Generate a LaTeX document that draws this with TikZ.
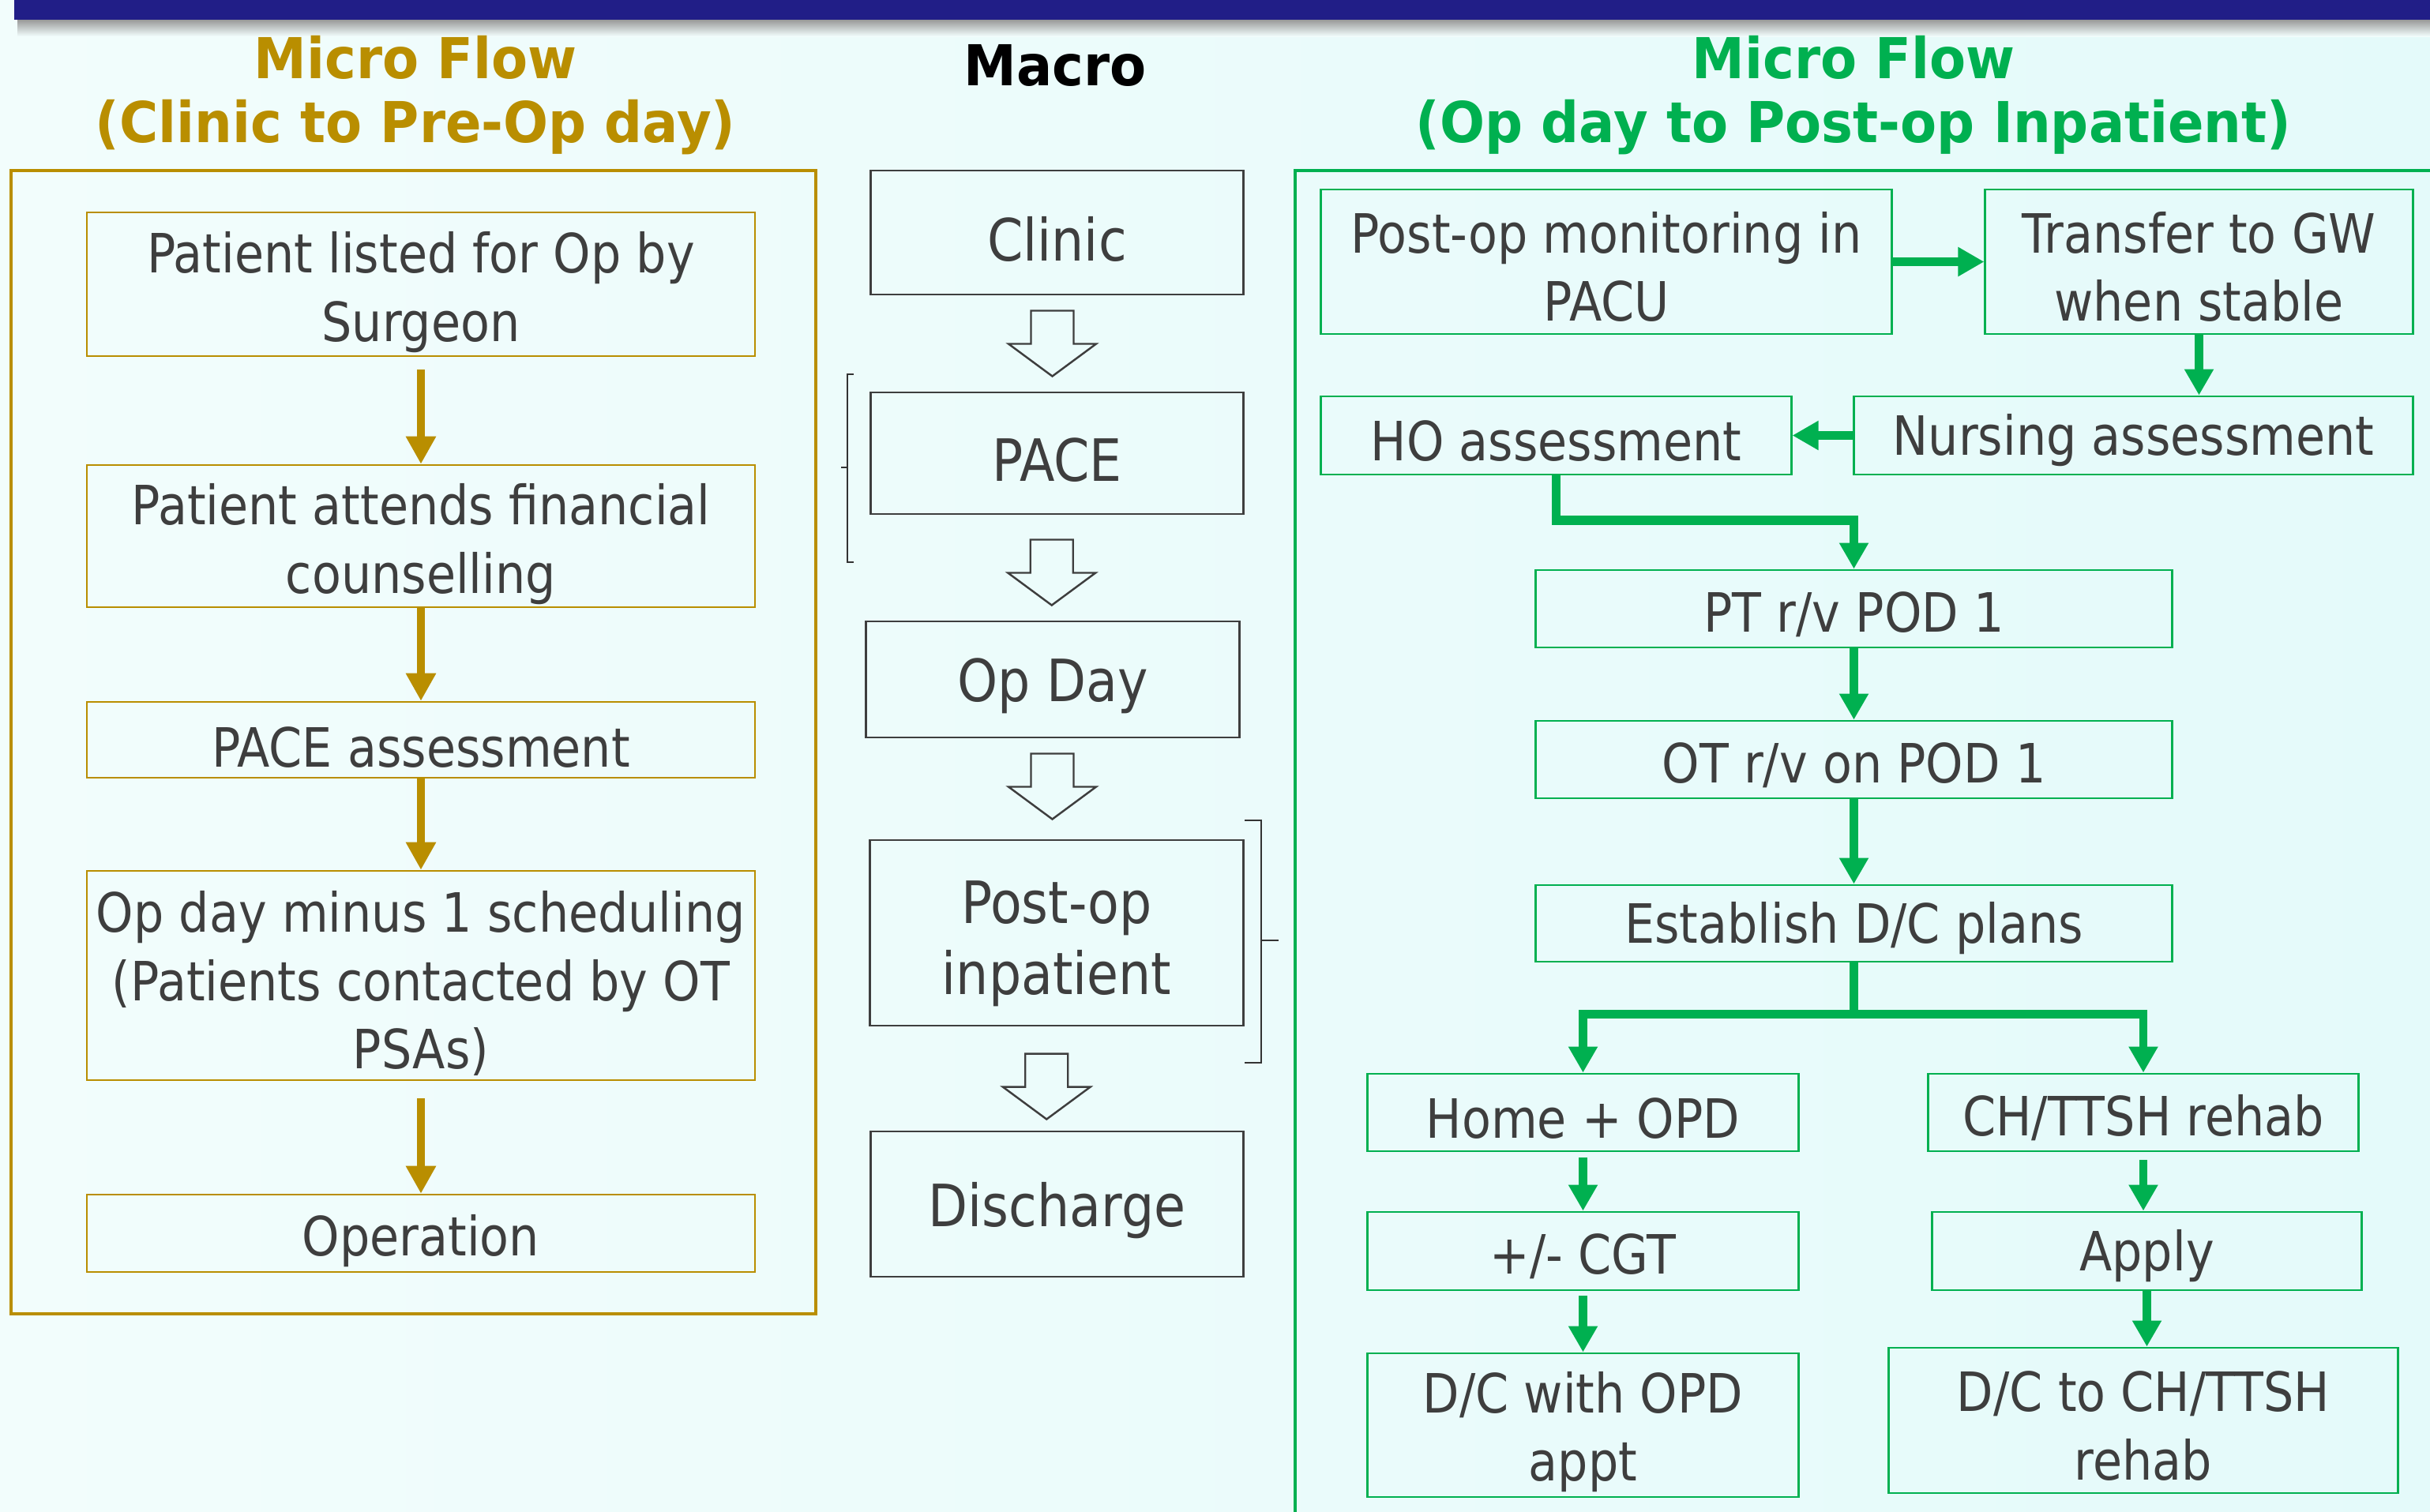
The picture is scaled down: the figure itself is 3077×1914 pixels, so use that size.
\documentclass[tikz,border=0pt]{standalone}
\usepackage{fontspec}
\setmainfont{DejaVu Sans}[FakeStretch=0.88, BoldFeatures={FakeStretch=0.94}]
\usetikzlibrary{arrows.meta,calc}

\definecolor{navy}{RGB}{33,30,135}
\definecolor{gold}{RGB}{185,142,0}
\definecolor{grn}{RGB}{0,176,80}
\definecolor{txt}{RGB}{62,62,62}
\definecolor{bgc}{RGB}{242,253,252}
\definecolor{bgr}{RGB}{228,250,250}

\newcommand{\boxfont}{\fontsize{19.5}{24.5}\selectfont}
\newcommand{\macrofont}{\fontsize{21}{25.5}\selectfont}
\newcommand{\titlefont}{\fontsize{20.3}{23}\selectfont\bfseries}
\newcommand{\lift}[1]{\rule{0pt}{#1}}

\tikzset{
  lbox/.style={draw=gold, line width=0.7pt, text=txt, align=center, inner sep=0pt, font=\boxfont,
    execute at begin node={\lift{20pt}}},
  mbox/.style={draw=txt, line width=0.8pt, text=txt, align=center, inner sep=0pt, font=\macrofont,
    execute at begin node={\lift{20.5pt}}},
  rbox/.style={draw=grn, line width=0.8pt, text=txt, align=center, inner sep=0pt, font=\boxfont,
    execute at begin node={\lift{18.5pt}}},
  ttl/.style={inner sep=0pt, font=\titlefont},
  larrow/.style={draw=gold, line width=3pt, -{Triangle[length=0.35cm,width=0.36cm]}},
  garrow/.style={draw=grn, line width=2.9pt, -{Triangle[length=0.33cm,width=0.35cm]}},
  hollow/.style={draw=txt, line width=0.7pt},
  brk/.style={draw=black!80, line width=0.5pt}
}

% hollow block arrow centred on a named coordinate
\newcommand{\hollowarrow}[1]{%
  \draw[hollow] ([shift={(-27,-41.5)}]#1) -- ++(54,0) -- ++(0,42) -- ++(28.5,0)
    -- ++(-55.5,41) -- ++(-55.5,-41) -- ++(28.5,0) -- cycle;}

\begin{document}
\begin{tikzpicture}[x=0.01cm, y=-0.01cm]

\useasboundingbox (0,0) rectangle (3077,1914);
\clip (0,0) rectangle (3077,1914);
\shade[left color=bgc, right color=bgr] (0,0) rectangle (3077,1914);

% top bar
\shade[top color=black!40, bottom color=bgc] (22,25) rectangle (3077,46);
\fill[navy] (18,0) rectangle (3077,25);

% titles
\node[ttl, text=gold, anchor=base] (lt1) at (526,99) {Micro Flow};
\node[ttl, text=gold, anchor=base] (lt2) at (526,180) {(Clinic to Pre-Op day)};
\node[ttl, anchor=base] (mt) at (1336,108) {Macro};
\node[ttl, text=grn, anchor=base] (rt1) at (2347,99) {Micro Flow};
\node[ttl, text=grn, anchor=base] (rt2) at (2347,180) {(Op day to Post-op Inpatient)};

% left column
\draw[gold, line width=1.4pt] (14,216) rectangle (1033,1664);

\node[lbox, minimum width=8.46cm, minimum height=1.82cm] (listed) at (533,360) {\lift{20.5pt}Patient listed for Op by\\Surgeon};
\node[lbox, minimum width=8.46cm, minimum height=1.80cm] (counsel) at (533,679) {\lift{20.5pt}Patient attends financial\\counselling};
\node[lbox, minimum width=8.46cm, minimum height=0.96cm] (paceass) at (533,937) {PACE assessment};
\node[lbox, minimum width=8.46cm, minimum height=2.65cm] (schedule) at (533,1235.5) {\lift{20.5pt}Op day minus 1 scheduling\\(Patients contacted by OT\\PSAs)};
\node[lbox, minimum width=8.46cm, minimum height=0.98cm] (operation) at (533,1562) {Operation};

\draw[larrow, shorten <=0.16cm] (listed) -- (counsel);
\draw[larrow] (counsel) -- (paceass);
\draw[larrow] (paceass) -- (schedule);
\draw[larrow, shorten <=0.22cm] (schedule) -- (operation);

% macro column
\node[mbox, minimum width=4.71cm, minimum height=1.57cm] (clinic) at (1338.5,294.5) {Clinic};
\node[mbox, minimum width=4.71cm, minimum height=1.54cm] (pace) at (1338.5,574) {PACE};
\node[mbox, minimum width=4.72cm, minimum height=1.47cm] (opday) at (1333,860.5) {Op Day};
\node[mbox, minimum width=4.72cm, minimum height=2.35cm] (postop) at (1338,1181.5) {\lift{23pt}Post-op\\inpatient};
\node[mbox, minimum width=4.71cm, minimum height=1.84cm] (discharge) at (1338.5,1525) {Discharge};

\coordinate (h1) at ($(clinic.south)!0.5!(pace.north)+(-6,0)$);
\coordinate (h2) at ($(pace.south)!0.5!(opday.north)+(-4,6)$);
\coordinate (h3) at ($(opday.south)!0.5!(postop.north)+(-3,-3)$);
\coordinate (h4) at ($(postop.south)!0.5!(discharge.north)+(-13,10)$);
\hollowarrow{h1}
\hollowarrow{h2}
\hollowarrow{h3}
\hollowarrow{h4}

\draw[brk] (1081,474) -- (1073,474) -- (1073,712) -- (1081,712);
\draw[brk] (1073,592) -- (1065,592);
\draw[brk] (1576,1039) -- (1597,1039) -- (1597,1346) -- (1576,1346);
\draw[brk] (1597,1191) -- (1619,1191);

% right column
\draw[grn, line width=1.3pt] (3100,216) -- (1640,216) -- (1640,1930);

\node[rbox, minimum width=7.22cm, minimum height=1.83cm] (pacu) at (2034,331.5) {\lift{18.5pt}Post-op monitoring in\\PACU};
\node[rbox, minimum width=5.41cm, minimum height=1.83cm] (transfer) at (2784.5,331.5) {\lift{18.5pt}Transfer to GW\\when stable};
\node[rbox, minimum width=5.95cm, minimum height=0.99cm] (ho) at (1970.5,551.5) {HO assessment};
\node[rbox, minimum width=7.07cm, minimum height=0.99cm] (nursing) at (2701.5,551.5) {Nursing assessment};
\node[rbox, minimum width=8.05cm, minimum height=0.98cm] (pt) at (2347.5,771) {PT r/v POD 1};
\node[rbox, minimum width=8.05cm, minimum height=0.98cm] (ot) at (2347.5,962) {OT r/v on POD 1};
\node[rbox, minimum width=8.05cm, minimum height=0.97cm] (est) at (2347.5,1169.5) {Establish D/C plans};
\node[rbox, minimum width=5.45cm, minimum height=0.98cm] (home) at (2004.5,1409) {Home + OPD};
\node[rbox, minimum width=5.44cm, minimum height=0.98cm] (ch) at (2714,1409) {CH/TTSH rehab};
\node[rbox, minimum width=5.45cm, minimum height=0.99cm] (cgt) at (2004.5,1584.5) {+/- CGT};
\node[rbox, minimum width=5.43cm, minimum height=0.99cm] (apply) at (2718.5,1584.5) {Apply};
\node[rbox, minimum width=5.45cm, minimum height=1.82cm] (dcopd) at (2004.5,1805) {\lift{19.5pt}D/C with OPD\\appt};
\node[rbox, minimum width=6.44cm, minimum height=1.84cm] (dcch) at (2714,1799) {\lift{18.5pt}D/C to CH/TTSH\\rehab};

\draw[garrow, line width=3.4pt] (pacu) -- (transfer);
\draw[garrow] (transfer.south) -- (transfer.south |- nursing.north);
\draw[garrow, line width=3.4pt] (nursing) -- (ho);
\draw[garrow, line width=3.4pt] (ho.south) -- ++(0,57) -| (pt.north);
\draw[garrow] (pt) -- (ot);
\draw[garrow] (ot) -- (est);
\draw[garrow] (est.south) -- ++(0,65) -| (home.north);
\draw[garrow] (est.south) -- ++(0,65) -| (ch.north);
\draw[garrow, shorten <=0.07cm] (home) -- (cgt);
\draw[garrow, shorten <=0.06cm] (cgt) -- (dcopd);
\draw[garrow, shorten <=0.1cm] (ch.south) -- (ch.south |- apply.north);
\draw[garrow] (apply.south) -- (apply.south |- dcch.north);

\end{tikzpicture}
\end{document}
